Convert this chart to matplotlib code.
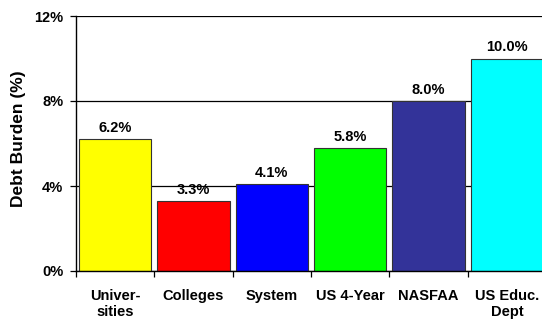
import numpy as np
import matplotlib.pyplot as plt

categories = ['Univer-\nsities', 'Colleges', 'System', 'US 4-Year', 'NASFAA', 'US Educ.\nDept']
debt_burden = [6.2, 3.3, 4.1, 5.8, 8.0, 10.0]
bar_colors = ['#FFFF00', '#FF0000', '#0000FF', '#00FF00', '#333399', '#00FFFF']
y_ticks = [0, 4, 8, 12]

plt.rcParams['font.family'] = ['Liberation Sans', 'DejaVu Sans']
plt.rcParams['font.weight'] = 'bold'

fig = plt.figure(figsize=(5.42, 3.2), dpi=100)
ax = fig.add_axes([76 / 542, 49 / 320, 470 / 542, 255 / 320])

x = np.arange(len(categories))
bars = ax.bar(x, debt_burden, width=0.92, color=bar_colors,
              edgecolor='#333333', linewidth=0.8, zorder=2)

for xi, v in zip(x, debt_burden):
    ax.annotate(f'{v:.1f}%', (xi, v), xytext=(0, 3), textcoords='offset points',
                ha='center', va='bottom', fontsize=10.5, fontweight='bold')

ax.set_xlim(-0.5, len(categories) - 0.5)
ax.set_ylim(0, 12)
ax.set_yticks(y_ticks)
ax.set_yticklabels([f'{t}%' for t in y_ticks], fontsize=10.5, fontweight='bold')
ax.yaxis.grid(True, color='black', linewidth=0.9, zorder=0)

# tick marks at category boundaries, labels centred under the bars
ax.set_xticks(np.arange(-0.5, len(categories)), labels=[''] * (len(categories) + 1))
ax.set_xticks(x, labels=categories, minor=True)
ax.tick_params(axis='x', which='major', direction='out', length=4, width=0.9)
ax.tick_params(axis='x', which='minor', length=0, pad=13, labelsize=10.5)
for lbl in ax.get_xticklabels(minor=True):
    lbl.set_fontweight('bold')
    lbl.set_linespacing(1.2)
ax.tick_params(axis='y', direction='out', length=4, width=0.9, pad=5)

ax.set_ylabel('Debt Burden (%)', fontsize=12.5, fontweight='bold')
ax.yaxis.set_label_coords(-0.106, 0.52)

for side in ['top', 'right']:
    ax.spines[side].set_visible(False)
ax.spines['left'].set_linewidth(1.0)
ax.spines['bottom'].set_linewidth(1.0)

fig.savefig('out.png', dpi=100)
